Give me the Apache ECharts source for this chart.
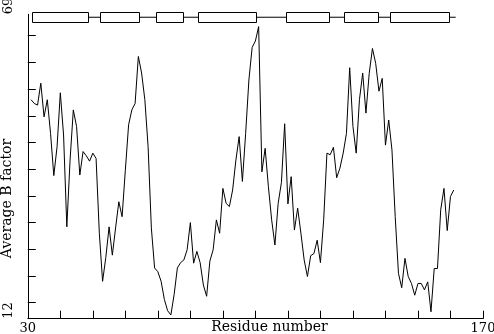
<!DOCTYPE html>
<html>
<head>
<meta charset="utf-8">
<script src="https://cdn.jsdelivr.net/npm/echarts@6/dist/echarts.min.js"></script>
<style>
html,body{margin:0;padding:0;background:#fff;}
#chart{width:494px;height:334px;}
</style>
</head>
<body>
<div id="chart"></div>
<script>
// Residue numbers and average B factor values
const residues = [31,32,33,34,35,36,37,38,39,40,41,42,43,44,45,46,47,48,49,50,
  51,52,53,54,55,56,57,58,59,60,61,62,63,64,65,66,67,68,69,70,
  71,72,73,74,75,76,77,78,79,80,81,82,83,84,85,86,87,88,89,90,
  91,92,93,94,95,96,97,98,99,100,101,102,103,104,105,106,107,108,109,110,
  111,112,113,114,115,116,117,118,119,120,121,122,123,124,125,126,127,128,129,130,
  131,132,133,134,135,136,137,138,139,140,141,142,143,144,145,146,147,148,149,150,
  151,152,153,154,155,156,157,158,159,160,161];
const bFactor = [53.0,52.3,52.0,56.1,49.8,53.0,46.7,38.8,44.2,54.3,
  46.4,29.2,41.7,51.1,48.0,38.9,43.3,42.5,41.5,43.0,
  42.0,28.0,19.0,23.5,29.2,23.9,29.0,33.9,31.1,39.8,
  48.3,51.1,52.3,61.1,58.0,53.0,44.2,29.0,21.5,20.8,
  19.0,15.6,13.5,12.7,16.5,21.5,22.5,23.0,24.9,30.0,
  22.4,24.6,22.5,18.3,16.2,22.8,24.9,30.5,28.0,36.4,
  33.6,33.0,36.1,41.7,46.1,37.7,46.7,56.7,62.8,64.0,
  66.7,39.5,43.9,36.7,30.5,25.8,33.6,37.5,48.5,33.5,
  38.6,28.6,32.7,28.0,23.0,19.9,23.8,24.2,26.7,22.5,
  30.5,43.0,42.7,44.1,38.4,40.2,43.0,46.7,59.0,48.0,
  43.0,53.0,58.0,50.5,57.9,62.6,59.8,54.6,57.0,44.5,
  49.2,43.6,31.1,20.5,17.8,23.3,19.9,18.6,16.4,18.6,
  18.6,17.4,18.9,13.3,21.4,21.4,32.4,36.4,28.5,34.9,36.1];

// Secondary structure (helix boxes) along the top
const helixStart = [31.3, 52.2, 69.4, 82.3, 109.4, 127.2, 141.4];
const helixEnd   = [48.5, 64.2, 77.7, 100.2, 122.6, 137.7, 159.5];
const ssLineSpan = [31.3, 161.6];
const ssLevel = 68.45;

// Axis ticks and labels
const xLabels = [30, 170];
const yLabels = [12, 69];
const yTicks = [15, 20, 25, 30, 35, 40, 45, 50, 55, 60, 65];

const FONT = 'DejaVu Serif';
const chart = echarts.init(document.getElementById('chart'), null, {renderer: 'canvas'});

const helixData = helixStart.map((s, i) => [s, helixEnd[i], ssLevel]);

chart.setOption({
  animation: false,
  backgroundColor: '#fff',
  grid: {left: 27.8, right: 11, top: 14.3, bottom: 15.3, containLabel: false, outerBoundsMode: 'none'},
  xAxis: {
    type: 'value', min: 30, max: 170, interval: 10,
    name: 'Residue number', nameLocation: 'middle', nameGap: 2, nameMoveOverlap: false,
    nameTextStyle: {color: '#000', fontFamily: FONT, fontSize: 14, verticalAlign: 'top', padding: [0, 0, 0, 28]},
    axisLine: {show: true, lineStyle: {color: '#000', width: 1}},
    axisTick: {show: true, inside: true, length: 8, lineStyle: {color: '#000', width: 1}},
    axisLabel: {customValues: xLabels, color: '#000', fontFamily: FONT, fontSize: 13, margin: 3},
    splitLine: {show: false}
  },
  yAxis: {
    type: 'value', min: 12, max: 69,
    name: 'Average B factor', nameLocation: 'middle', nameGap: 13, nameRotate: 90, nameMoveOverlap: false,
    nameTextStyle: {color: '#000', fontFamily: FONT, fontSize: 14, padding: [0, 64, 0, 0]},
    axisLine: {show: true, lineStyle: {color: '#000', width: 1}},
    axisTick: {show: true, inside: true, length: 8, customValues: yTicks, lineStyle: {color: '#000', width: 1}},
    axisLabel: {customValues: yLabels, rotate: 90, align: 'left', verticalAlign: 'middle', color: '#000', fontFamily: FONT, fontSize: 13, margin: 19},
    splitLine: {show: false}
  },
  series: [
    {
      type: 'line',
      data: residues.map((r, i) => [r, bFactor[i]]),
      symbol: 'none', showSymbol: false,
      lineStyle: {color: '#000', width: 1},
      clip: false, z: 2
    },
    {
      type: 'line',
      data: ssLineSpan.map(x => [x, ssLevel]),
      symbol: 'none', showSymbol: false,
      lineStyle: {color: '#000', width: 1},
      clip: false, z: 3
    },
    {
      type: 'custom',
      data: helixData,
      encode: {x: [0, 1], y: 2},
      clip: false, z: 4,
      renderItem: function (params, api) {
        const a = api.coord([api.value(0), api.value(2)]);
        const b = api.coord([api.value(1), api.value(2)]);
        const x0 = Math.round(a[0]) + 0.5;
        const x1 = Math.round(b[0]) + 0.5;
        const yc = Math.round(a[1]);
        return {
          type: 'rect',
          shape: {x: x0, y: yc - 5 + 0.5, width: x1 - x0, height: 10},
          style: {fill: '#fff', stroke: '#000', lineWidth: 1}
        };
      }
    }
  ]
});
</script>
</body>
</html>
